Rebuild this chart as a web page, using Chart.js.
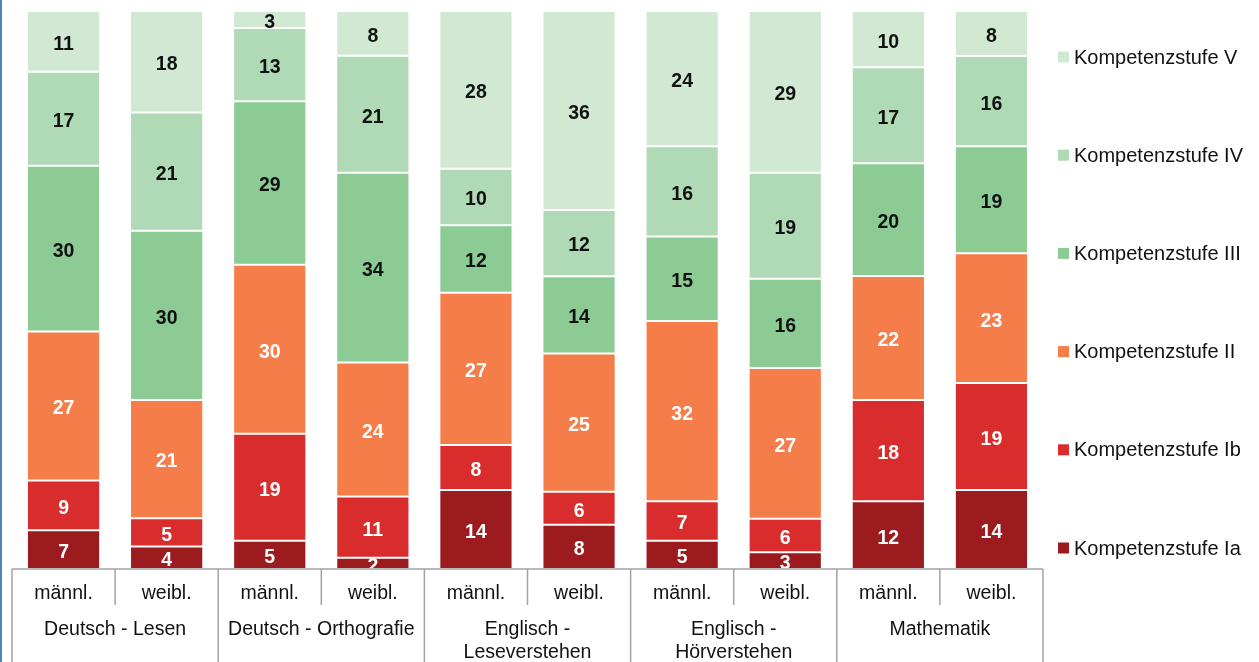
<!DOCTYPE html>
<html>
<head>
<meta charset="utf-8">
<script src="https://cdn.jsdelivr.net/npm/chart.js@4.4.1/dist/chart.umd.min.js"></script>
<style>
  html, body { margin: 0; padding: 0; background: #fff; }
  #wrap { width: 1259px; height: 662px; position: relative; }
</style>
</head>
<body>
<div id="wrap"><canvas id="chartKompetenz"></canvas></div>
<script>
'use strict';

// Achsen-Beschriftungen
const geschlecht = ["männl.", "weibl.", "männl.", "weibl.", "männl.", "weibl.", "männl.", "weibl.", "männl.", "weibl."];
const faecher = [["Deutsch - Lesen"], ["Deutsch - Orthografie"], ["Englisch -", "Leseverstehen"], ["Englisch -", "Hörverstehen"], ["Mathematik"]];

// Werte je Kompetenzstufe (Prozent)
const stufeIa  = [7, 4, 5, 2, 14, 8, 5, 3, 12, 14];
const stufeIb  = [9, 5, 19, 11, 8, 6, 7, 6, 18, 19];
const stufeII  = [27, 21, 30, 24, 27, 25, 32, 27, 22, 23];
const stufeIII = [30, 30, 29, 34, 12, 14, 15, 16, 20, 19];
const stufeIV  = [17, 21, 13, 21, 10, 12, 16, 19, 17, 16];
const stufeV   = [11, 18, 3, 8, 28, 36, 24, 29, 10, 8];

const stufen = [
  { label: "Kompetenzstufe Ia",  werte: stufeIa,  farbe: "#9b1b1f", text: "#ffffff" },
  { label: "Kompetenzstufe Ib",  werte: stufeIb,  farbe: "#d92d2d", text: "#ffffff" },
  { label: "Kompetenzstufe II",  werte: stufeII,  farbe: "#f47d4a", text: "#ffffff" },
  { label: "Kompetenzstufe III", werte: stufeIII, farbe: "#8dcb95", text: "#111111" },
  { label: "Kompetenzstufe IV",  werte: stufeIV,  farbe: "#b0dab5", text: "#111111" },
  { label: "Kompetenzstufe V",   werte: stufeV,   farbe: "#d1e9d3", text: "#111111" }
];

// gerundete Werte -> auf 100 % strecken
const summen = geschlecht.map((_, i) => stufen.reduce((s, st) => s + st.werte[i], 0));

const FONT = "'Liberation Sans', Arial, sans-serif";

// Werte in die Segmente schreiben
const segmentLabels = {
  id: 'segmentLabels',
  afterDatasetsDraw(chart) {
    const ctx = chart.ctx;
    ctx.save();
    ctx.font = "bold 19.5px " + FONT;
    ctx.textAlign = 'center';
    ctx.textBaseline = 'middle';
    chart.data.datasets.forEach((ds, d) => {
      chart.getDatasetMeta(d).data.forEach((bar, i) => {
        const p = bar.getProps(['x', 'y', 'base'], true);
        ctx.fillStyle = ds.textColor;
        ctx.fillText(String(ds.raw[i]), p.x, (p.y + p.base) / 2 + 3);
      });
    });
    ctx.restore();
  }
};

// zweistufige x-Achse (Geschlecht / Fach)
const xAchse = {
  id: 'xAchse',
  afterDraw(chart) {
    const ctx = chart.ctx;
    const a = chart.chartArea;
    const x = chart.scales.x;
    const half = (x.getPixelForValue(1) - x.getPixelForValue(0)) / 2;
    ctx.save();
    ctx.strokeStyle = '#a3a3a3';
    ctx.lineWidth = 1.5;
    ctx.beginPath();
    ctx.moveTo(a.left, a.bottom);
    ctx.lineTo(a.right, a.bottom);
    for (let i = 0; i <= geschlecht.length; i++) {
      const bx = i < geschlecht.length ? x.getPixelForValue(i) - half : x.getPixelForValue(i - 1) + half;
      ctx.moveTo(bx, a.bottom);
      ctx.lineTo(bx, i % 2 === 0 ? chart.height : a.bottom + 36);
    }
    ctx.stroke();

    ctx.fillStyle = '#111';
    ctx.font = "19.5px " + FONT;
    ctx.textAlign = 'center';
    ctx.textBaseline = 'middle';
    geschlecht.forEach((g, i) => ctx.fillText(g, x.getPixelForValue(i), a.bottom + 25));
    faecher.forEach((zeilen, f) => {
      const cx = (x.getPixelForValue(2 * f) + x.getPixelForValue(2 * f + 1)) / 2;
      zeilen.forEach((z, k) => ctx.fillText(z, cx, a.bottom + 61 + k * 23));
    });

    // Rahmen links
    ctx.strokeStyle = '#4f81bd';
    ctx.lineWidth = 2;
    ctx.beginPath();
    ctx.moveTo(1, 0);
    ctx.lineTo(1, chart.height);
    ctx.stroke();
    ctx.restore();
  }
};

// Legende rechts, von V (oben) bis Ia (unten)
const legendeRechts = {
  id: 'legendeRechts',
  afterDraw(chart) {
    const ctx = chart.ctx;
    const ds = chart.data.datasets.slice().reverse();
    ctx.save();
    ctx.font = "20px " + FONT;
    ctx.textBaseline = 'middle';
    ctx.textAlign = 'left';
    ds.forEach((d, i) => {
      const y = 57 + i * 98.2;
      ctx.fillStyle = d.backgroundColor;
      ctx.fillRect(1058, y - 5.5, 11, 11);
      ctx.fillStyle = '#111';
      ctx.fillText(d.label, 1074, y + 1);
    });
    ctx.restore();
  }
};

new Chart(document.getElementById('chartKompetenz'), {
  type: 'bar',
  data: {
    labels: geschlecht,
    datasets: stufen.map(st => ({
      label: st.label,
      raw: st.werte,
      textColor: st.text,
      data: st.werte.map((v, i) => v / summen[i] * 100),
      backgroundColor: st.farbe,
      borderColor: 'rgba(255,255,255,0.45)',
      borderWidth: 1,
      borderSkipped: false,
      categoryPercentage: 1,
      barPercentage: 0.71
    }))
  },
  options: {
    responsive: true,
    maintainAspectRatio: false,
    animation: false,
    layout: { padding: { left: 12, top: 11, right: 216, bottom: 93 } },
    scales: {
      x: { stacked: true, display: false },
      y: { stacked: true, display: false, min: 0, max: 100 }
    },
    plugins: {
      legend: { display: false },
      tooltip: { enabled: false }
    }
  },
  plugins: [segmentLabels, xAchse, legendeRechts]
});
</script>
</body>
</html>
